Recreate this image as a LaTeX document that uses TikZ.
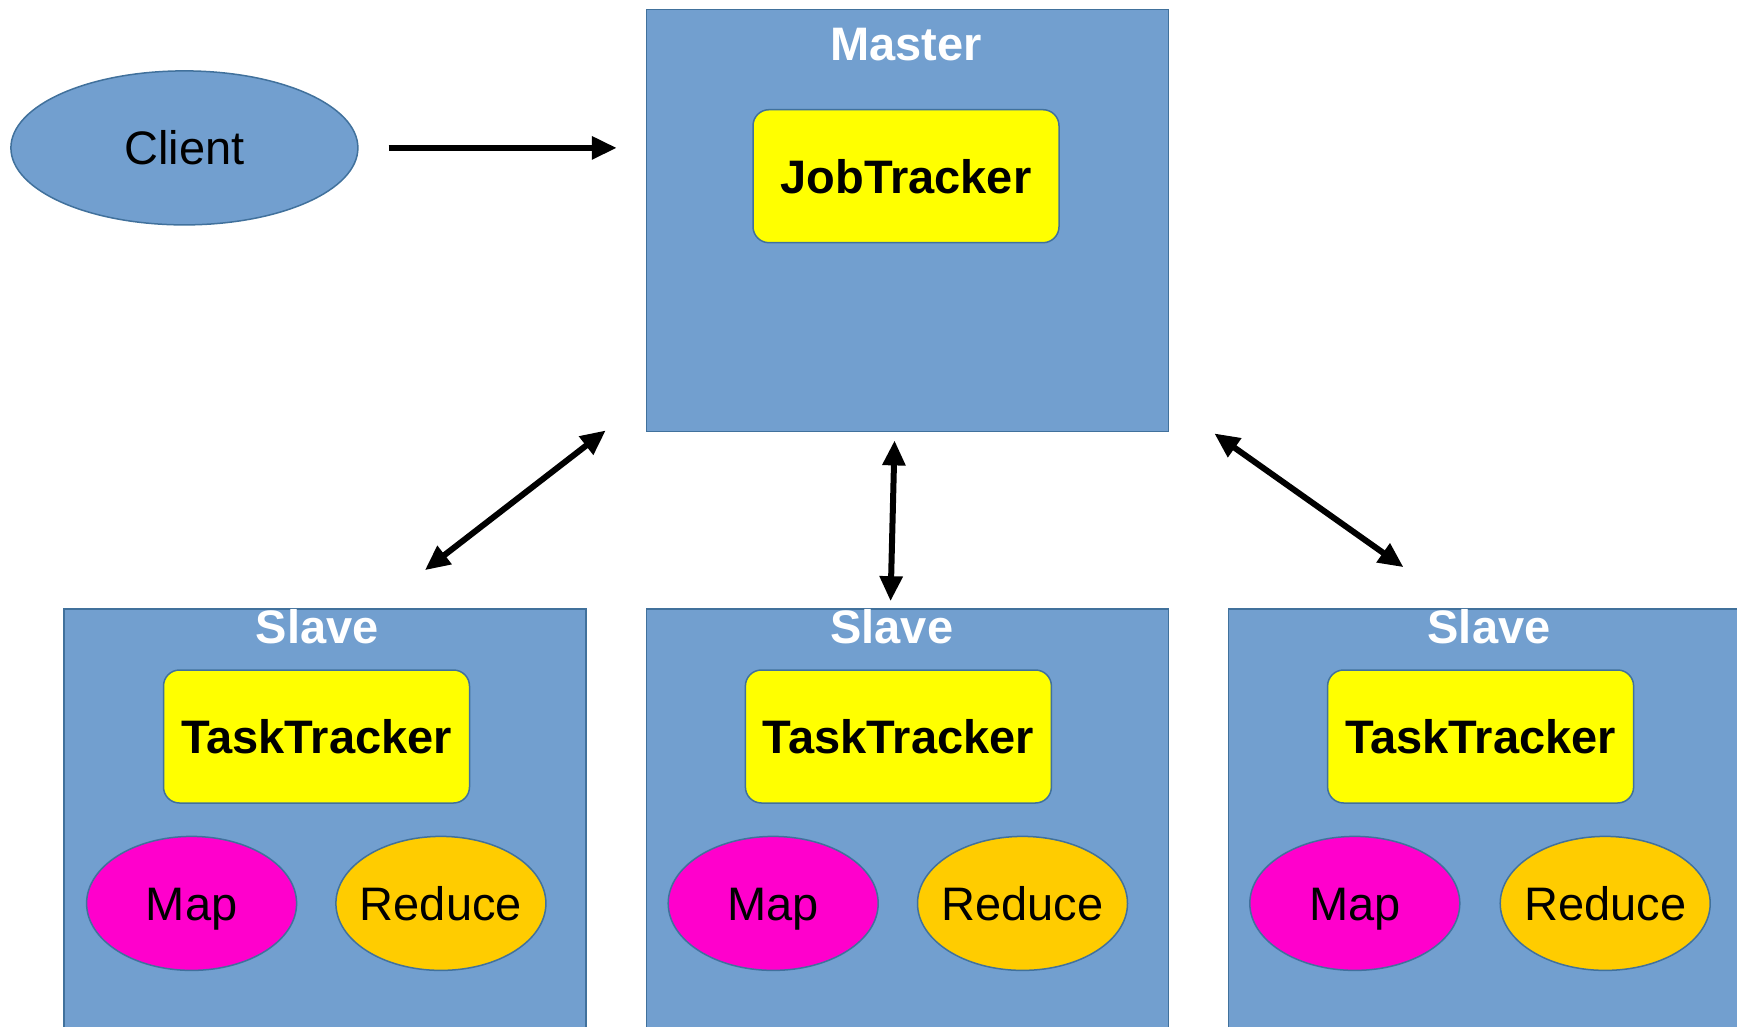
\documentclass[tikz,border=0pt]{standalone}
\usepackage{fontspec}
\setmainfont{Liberation Sans}
\usetikzlibrary{arrows.meta,calc,shapes.geometric}

\definecolor{nodeblue}{RGB}{114,159,207}
\definecolor{edgeblue}{RGB}{65,113,156}
\definecolor{trackeryellow}{RGB}{255,255,0}
\definecolor{mapmagenta}{RGB}{255,0,204}
\definecolor{reduceorange}{RGB}{255,204,0}

\begin{document}
\begin{tikzpicture}[x=1pt,y=-1pt,
  bigfont/.style={font=\fontsize{47pt}{56pt}\selectfont, text height=34pt, text depth=0pt},
  hostbox/.style={rectangle, draw=edgeblue, fill=nodeblue, line width=1.5pt,
    anchor=north west, inner sep=0pt, minimum width=522pt},
  hosttitle/.style={font=\fontsize{47pt}{56pt}\selectfont\bfseries,
    text=white, anchor=base, inner sep=0pt},
  tracker/.style={rectangle, rounded corners=16pt, draw=edgeblue, fill=trackeryellow,
    line width=1.5pt, minimum width=306pt, minimum height=133pt, inner sep=0pt,
    bigfont, font=\fontsize{47pt}{56pt}\selectfont\bfseries},
  blob/.style={ellipse, draw=edgeblue, line width=1.5pt, inner xsep=-40pt, inner ysep=0pt,
    minimum width=210pt, minimum height=134pt, bigfont},
  onearrow/.style={line width=6pt, -{Triangle[length=25pt,width=22pt]}},
  twoarrow/.style={line width=6pt,
    {Triangle[length=25pt,width=22pt]}-{Triangle[length=25pt,width=22pt]}}]

\useasboundingbox (0,0) rectangle (1737,1027);
\clip (0,0) rectangle (1737,1027);

% client
\node[blob, fill=nodeblue, minimum width=347pt, minimum height=154pt] (client) at (184.4,147.9) {Client};

% master with its job tracker
\node[hostbox, minimum height=422pt] (master) at (645.8,8.9) {};
\node[hosttitle] (mastertitle) at (906.2,61) {Master};
\node[tracker] (jobtracker) at (906,176.2) {JobTracker};

% slaves
\foreach \i/\x/\tx/\tt/\mx/\rx in {1/63.1/317.4/316.5/191.6/440.9,
                                   2/645.8/891.8/898.4/773.2/1022.5,
                                   3/1227.5/1489.0/1480.6/1354.8/1605.2}{
  \node[hostbox, minimum height=432pt] (slave\i) at (\x,608.2) {};
  \node[hosttitle] (slavetitle\i) at (\tx,643) {Slave};
  \node[tracker] (tasktracker\i) at (\tt,736.5) {TaskTracker};
  \node[blob, fill=mapmagenta] (map\i) at (\mx,903.4) {Map};
  \node[blob, fill=reduceorange] (reduce\i) at (\rx,903.4) {Reduce};
}

% connectors
\draw[onearrow, shorten <=30pt, shorten >=29pt] (client.east) -- (client.east -| master.west);
\draw[twoarrow] ($(master.south west)+(-40,-2)$) -- ($(slave1.north)+(100,-38)$);
\draw[twoarrow] ($(master.south)+(-13,8)$) -- ($(slave2.north)+(-17,-7)$);
\draw[twoarrow] ($(master.south east)+(45,1)$) -- ($(slave3.north west)+(176,-41)$);
\end{tikzpicture}
\end{document}
